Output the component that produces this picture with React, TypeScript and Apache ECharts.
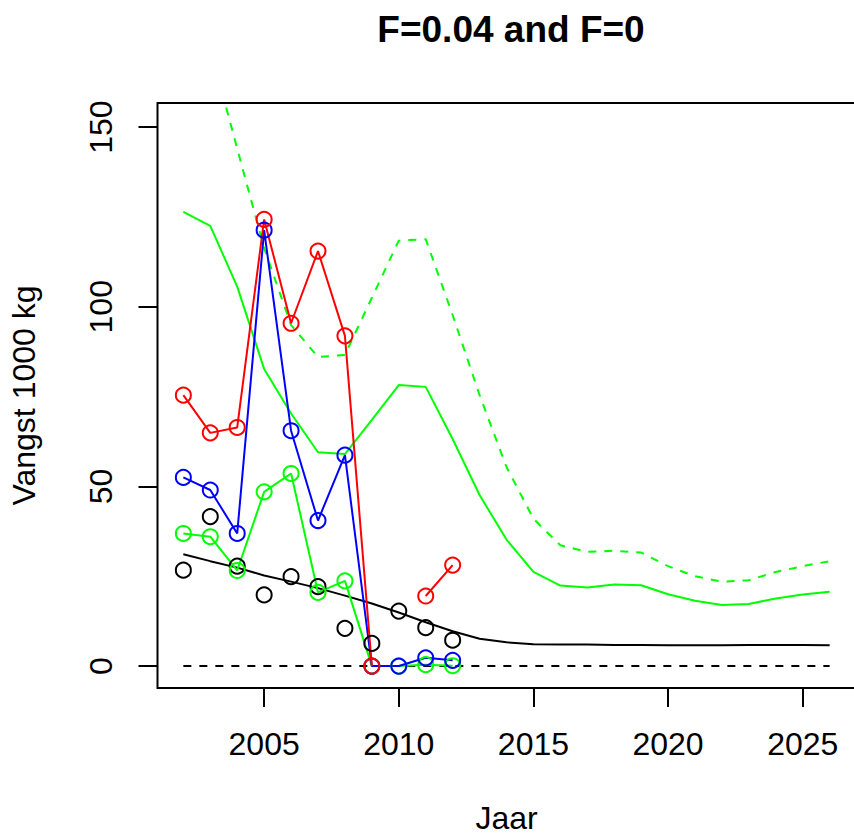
import React, { useEffect, useRef } from "react";
import * as echarts from "echarts";

const years = [2002, 2003, 2004, 2005, 2006, 2007, 2008, 2009, 2010, 2011, 2012, 2013, 2014, 2015, 2016, 2017, 2018, 2019, 2020, 2021, 2022, 2023, 2024, 2025, 2026];
const obsYears = [2002, 2003, 2004, 2005, 2006, 2007, 2008, 2009, 2010, 2011, 2012];

const xTicks = [2005, 2010, 2015, 2020, 2025];
const yTicks = [0, 50, 100, 150];

// observed points
const obsBlack = [26.7, 41.6, 27.8, 19.8, 24.9, 22.1, 10.5, 6.3, 15.3, 10.7, 7.2];
const obsRed: (number | null)[] = [75.4, 64.9, 66.4, 124.3, 95.4, 115.5, 91.9, 0, null, 19.5, 28.1];
const obsBlue = [52.5, 49.0, 36.9, 121.3, 65.5, 40.5, 58.7, 0, 0, 2.3, 1.6];
const obsGreen = [36.9, 36.0, 26.6, 48.5, 53.6, 20.5, 23.7, 0, 0, 0.4, 0.1];

// model lines
const modelBlack = [31.1, 29.2, 27.4, 25.2, 23.5, 21.7, 19.6, 17.4, 14.9, 12.2, 9.7, 7.6, 6.6, 6.1, 6.0, 6.0, 5.9, 5.9, 5.8, 5.8, 5.8, 5.9, 5.9, 5.9, 5.8];
const greenMid = [126.4, 122.5, 105.6, 82.7, 70.3, 59.5, 59.0, 68.5, 78.2, 77.7, 63.2, 47.6, 35.2, 26.2, 22.4, 21.9, 22.7, 22.5, 20.0, 18.2, 17.0, 17.3, 18.8, 19.9, 20.7];
const greenUpper = [178, 172, 144, 116.3, 94.9, 86.0, 86.6, 102.5, 118.4, 118.8, 97.7, 75.4, 55.4, 41.0, 33.6, 31.8, 32.1, 31.6, 27.8, 25.0, 23.5, 23.9, 26.2, 27.8, 29.2];
const zeroLine = [0, 0, 0, 0, 0, 0, 0, 0, 0, 0, 0, 0, 0, 0, 0, 0, 0, 0, 0, 0, 0, 0, 0, 0, 0];

const FONT = "'Liberation Sans', Arial, Helvetica, sans-serif";

function pairs(xs: number[], ys: (number | null)[]) {
  return xs.map((x, i) => [x, ys[i] === null ? "-" : ys[i]]);
}

function lineSeries(data: any[], color: string, dashed: boolean) {
  return {
    type: "line",
    data,
    showSymbol: false,
    symbol: "none",
    clip: true,
    silent: true,
    lineStyle: { color, width: 2, type: dashed ? [8, 8] : "solid" },
    itemStyle: { color },
  };
}

function pointSeries(data: any[], color: string, connect: boolean) {
  return {
    type: "line",
    data,
    showSymbol: true,
    symbol: "circle",
    symbolSize: 15,
    clip: true,
    silent: true,
    connectNulls: false,
    lineStyle: { color, width: connect ? 2 : 0, opacity: connect ? 1 : 0 },
    itemStyle: { color: "rgba(0,0,0,0)", borderColor: color, borderWidth: 2 },
  };
}

export default function App() {
  const ref = useRef<HTMLDivElement>(null);
  useEffect(() => {
    document.body.style.margin = "0";
    const chart = echarts.init(ref.current!, undefined, { renderer: "svg" });
    chart.setOption({
      animation: false,
      backgroundColor: "#fff",
      textStyle: { fontFamily: FONT },
      title: {
        text: "F=0.04 and F=0",
        left: 506,
        top: 6,
        textAlign: "center",
        textStyle: { fontSize: 37, fontWeight: "bold", color: "#000", fontFamily: FONT },
      },
      grid: {
        left: 157.5,
        top: 103,
        width: 698,
        height: 585,
        show: true,
        borderColor: "#000",
        borderWidth: 2,
        backgroundColor: "transparent",
        containLabel: false,
        outerBoundsMode: "none",
      },
      xAxis: {
        type: "value",
        min: 2001.04,
        max: 2026.96,
        splitLine: { show: false },
        axisLine: { show: false, onZero: false },
        axisTick: {
          show: true,
          inside: false,
          customValues: xTicks,
          length: 19,
          lineStyle: { color: "#000", width: 2 },
        },
        axisLabel: {
          customValues: xTicks,
          formatter: (v: number) => String(v),
          fontSize: 32,
          color: "#000",
          margin: 40,
          fontFamily: FONT,
        },
        name: "Jaar",
        nameLocation: "middle",
        nameGap: 115,
        nameTextStyle: { fontSize: 32, lineHeight: 30, color: "#000", fontFamily: FONT },
      },
      yAxis: {
        type: "value",
        min: -6.1,
        max: 156.7,
        splitLine: { show: false },
        axisLine: { show: false, onZero: false },
        axisTick: {
          show: true,
          inside: false,
          customValues: yTicks,
          length: 19,
          lineStyle: { color: "#000", width: 2 },
        },
        axisLabel: {
          customValues: yTicks,
          formatter: (v: number) => String(v),
          fontSize: 32,
          color: "#000",
          margin: 41,
          rotate: 90,
          fontFamily: FONT,
        },
        name: "Vangst 1000 kg",
        nameLocation: "middle",
        nameRotate: 90,
        nameGap: 118,
        nameTextStyle: { fontSize: 32, color: "#000", fontFamily: FONT },
      },
      series: [
        lineSeries(pairs(years, zeroLine), "#000", true),
        lineSeries(pairs(years, modelBlack), "#000", false),
        lineSeries(pairs(years, greenMid), "#00ff00", false),
        lineSeries(pairs(years, greenUpper), "#00ff00", true),
        pointSeries(pairs(obsYears, obsBlack), "#000", false),
        pointSeries(pairs(obsYears, obsGreen), "#00ff00", true),
        pointSeries(pairs(obsYears, obsBlue), "#0000ff", true),
        pointSeries(pairs(obsYears, obsRed), "#ff0000", true),
      ],
    });
    return () => chart.dispose();
  }, []);
  return <div ref={ref} style={{ width: 854, height: 836 }} />;
}
